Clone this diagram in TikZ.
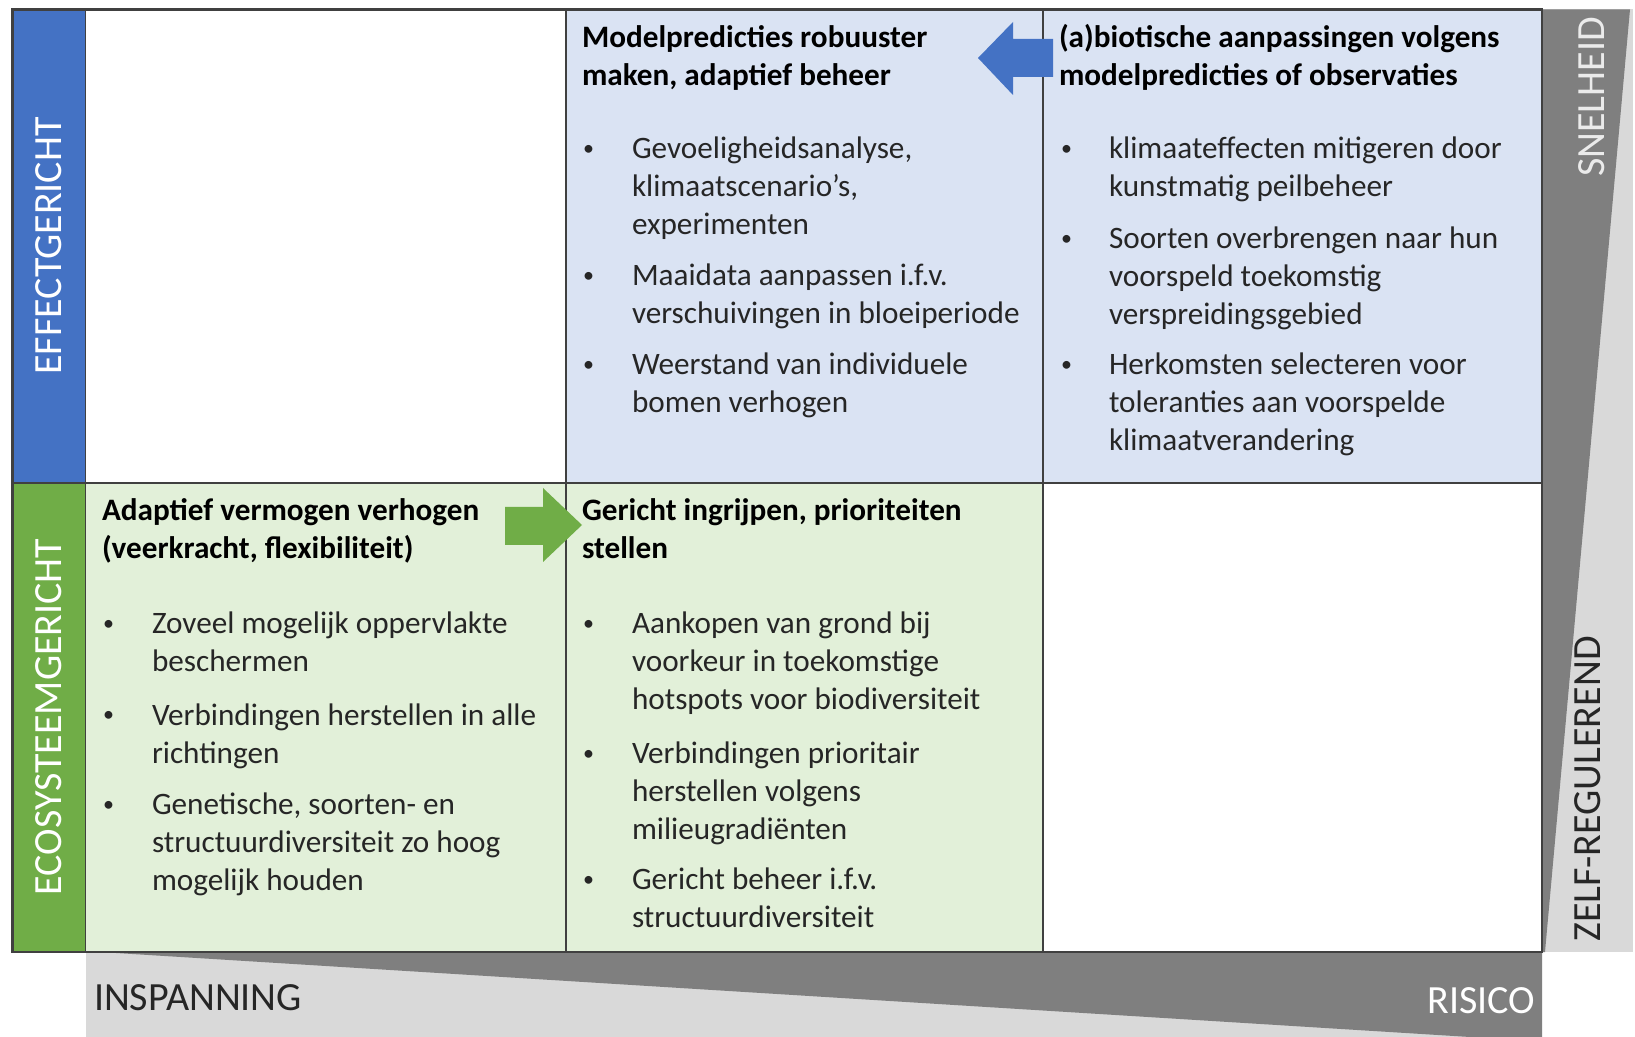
\documentclass[tikz,border=0pt]{standalone}
\usepackage{fontspec}
\setmainfont{Carlito}
\definecolor{bandblue}{HTML}{4472C4}
\definecolor{bandgreen}{HTML}{70AD47}
\definecolor{cellblue}{HTML}{DAE3F3}
\definecolor{cellgreen}{HTML}{E2F0D9}
\definecolor{darkgrey}{HTML}{7F7F7F}
\definecolor{lightgrey}{HTML}{D9D9D9}
\definecolor{gridline}{HTML}{404040}
\definecolor{bodytext}{HTML}{262626}
\newcommand{\bdot}{\strut\raisebox{1.5pt}{•}}
\begin{document}
\begin{tikzpicture}[x=0.5pt,y=-0.5pt,
  bodytxt/.style={anchor=north west, inner sep=0pt, outer sep=0pt, align=left,
    font=\fontsize{15.6}{19}\selectfont, text=bodytext},
  titletxt/.style={bodytxt, font=\fontsize{15.6}{19}\selectfont\bfseries, text=black},
  bulletdot/.style={bodytxt, font=\fontsize{11}{19}\selectfont},
  sidelabel/.style={inner sep=0pt, outer sep=0pt, font=\fontsize{20}{24}\selectfont},
  outerline/.style={draw=gridline, line width=1.2pt},
  innerline/.style={draw=gridline, line width=0.9pt},
]
\useasboundingbox (0,0) rectangle (1635,1037);
\fill[white] (0,0) rectangle (1635,1037);

% gradient bands
\fill[lightgrey] (1542,9.4) -- (1633,9.4) -- (1633,952) -- (1542,952) -- cycle;
\fill[darkgrey] (1542,9.4) -- (1630,9.4) -- (1545,952) -- (1542,952) -- cycle;
\fill[lightgrey] (85.5,952) rectangle (1542,1037);
\fill[darkgrey] (100,952) -- (1542,952) -- (1542,1037) -- (1470,1037) -- cycle;

% cells
\fill[bandblue] (12.5,9.4) rectangle (85.5,483);
\fill[bandgreen] (12.5,483) rectangle (85.5,952);
\fill[cellblue] (566,9.4) rectangle (1542,483);
\fill[cellgreen] (85.5,483) rectangle (1043,952);

% grid
\path[innerline] (12.5,483) -- (1542,483);
\path[innerline] (85.5,9.4) -- (85.5,952);
\path[innerline] (566,9.4) -- (566,952);
\path[innerline] (1043,9.4) -- (1043,952);
\path[outerline] (12.5,9.4) rectangle (1542,952);

% block arrows
\fill[bandblue] (978,58) -- (1013,22) -- (1013,39) -- (1053,39) -- (1053,77)
  -- (1013,77) -- (1013,95) -- cycle;
\fill[bandgreen] (582,525) -- (543,488) -- (543,507) -- (505,507) -- (505,545)
  -- (543,545) -- (543,562) -- cycle;

\begin{scope}[yshift=-1pt]
% top middle
\node[titletxt] (tmT) at (582,19.4) {\strut Modelpredicties robuuster\\maken, adaptief beheer};
\node[bulletdot] (tmb1) at (583,130.4) {\bdot};
\node[bodytxt] (tm1) at (632,130.4) {\strut Gevoeligheidsanalyse,\\klimaatscenario’s,\\experimenten};
\node[bulletdot] (tmb2) at (583,257.4) {\bdot};
\node[bodytxt] (tm2) at (632,257.4) {\strut Maaidata aanpassen i.f.v.\\verschuivingen in bloeiperiode};
\node[bulletdot] (tmb3) at (583,346.4) {\bdot};
\node[bodytxt] (tm3) at (632,346.4) {\strut Weerstand van individuele\\bomen verhogen};

% top right
\node[titletxt] (trT) at (1059,19.4) {\strut (a)biotische aanpassingen volgens\\modelpredicties of observaties};
\node[bulletdot] (trb1) at (1061,130.4) {\bdot};
\node[bodytxt] (tr1) at (1109,130.4) {\strut klimaateffecten mitigeren door\\kunstmatig peilbeheer};
\node[bulletdot] (trb2) at (1061,220.1) {\bdot};
\node[bodytxt] (tr2) at (1109,220.1) {\strut Soorten overbrengen naar hun\\voorspeld toekomstig\\verspreidingsgebied};
\node[bulletdot] (trb3) at (1061,346.4) {\bdot};
\node[bodytxt] (tr3) at (1109,346.4) {\strut Herkomsten selecteren voor\\toleranties aan voorspelde\\klimaatverandering};

% bottom left
\node[titletxt] (blT) at (102,492.4) {\strut Adaptief vermogen verhogen\\(veerkracht, flexibiliteit)};
\node[bulletdot] (blb1) at (103,604.9) {\bdot};
\node[bodytxt] (bl1) at (152,604.9) {\strut Zoveel mogelijk oppervlakte\\beschermen};
\node[bulletdot] (blb2) at (103,696.4) {\bdot};
\node[bodytxt] (bl2) at (152,696.4) {\strut Verbindingen herstellen in alle\\richtingen};
\node[bulletdot] (blb3) at (103,785.4) {\bdot};
\node[bodytxt] (bl3) at (152,785.4) {\strut Genetische, soorten- en\\structuurdiversiteit zo hoog\\mogelijk houden};

% bottom middle
\node[titletxt] (bmT) at (582,492.4) {\strut Gericht ingrijpen, prioriteiten\\stellen};
\node[bulletdot] (bmb1) at (583,604.9) {\bdot};
\node[bodytxt] (bm1) at (632,604.9) {\strut Aankopen van grond bij\\voorkeur in toekomstige\\hotspots voor biodiversiteit};
\node[bulletdot] (bmb2) at (583,734.4) {\bdot};
\node[bodytxt] (bm2) at (632,734.4) {\strut Verbindingen prioritair\\herstellen volgens\\milieugradiënten};
\node[bulletdot] (bmb3) at (583,860.4) {\bdot};
\node[bodytxt] (bm3) at (632,860.4) {\strut Gericht beheer i.f.v.\\structuurdiversiteit};
\end{scope}

% side labels
\node[sidelabel, text=white, rotate=90] (effect) at (49,246) {EFFECTGERICHT};
\node[sidelabel, text=white, rotate=90] (eco) at (49,717) {ECOSYSTEEMGERICHT};
\node[sidelabel, text=white!92!black, rotate=90] (snel) at (1592,97) {SNELHEID};
\node[sidelabel, text=bodytext, rotate=90] (zelf) at (1588,789) {ZELF-REGULEREND};
\node[sidelabel, text=bodytext, anchor=west] (insp) at (94,998) {INSPANNING};
\node[sidelabel, text=white, anchor=east] (risico) at (1535,1001) {RISICO};
\end{tikzpicture}
\end{document}
